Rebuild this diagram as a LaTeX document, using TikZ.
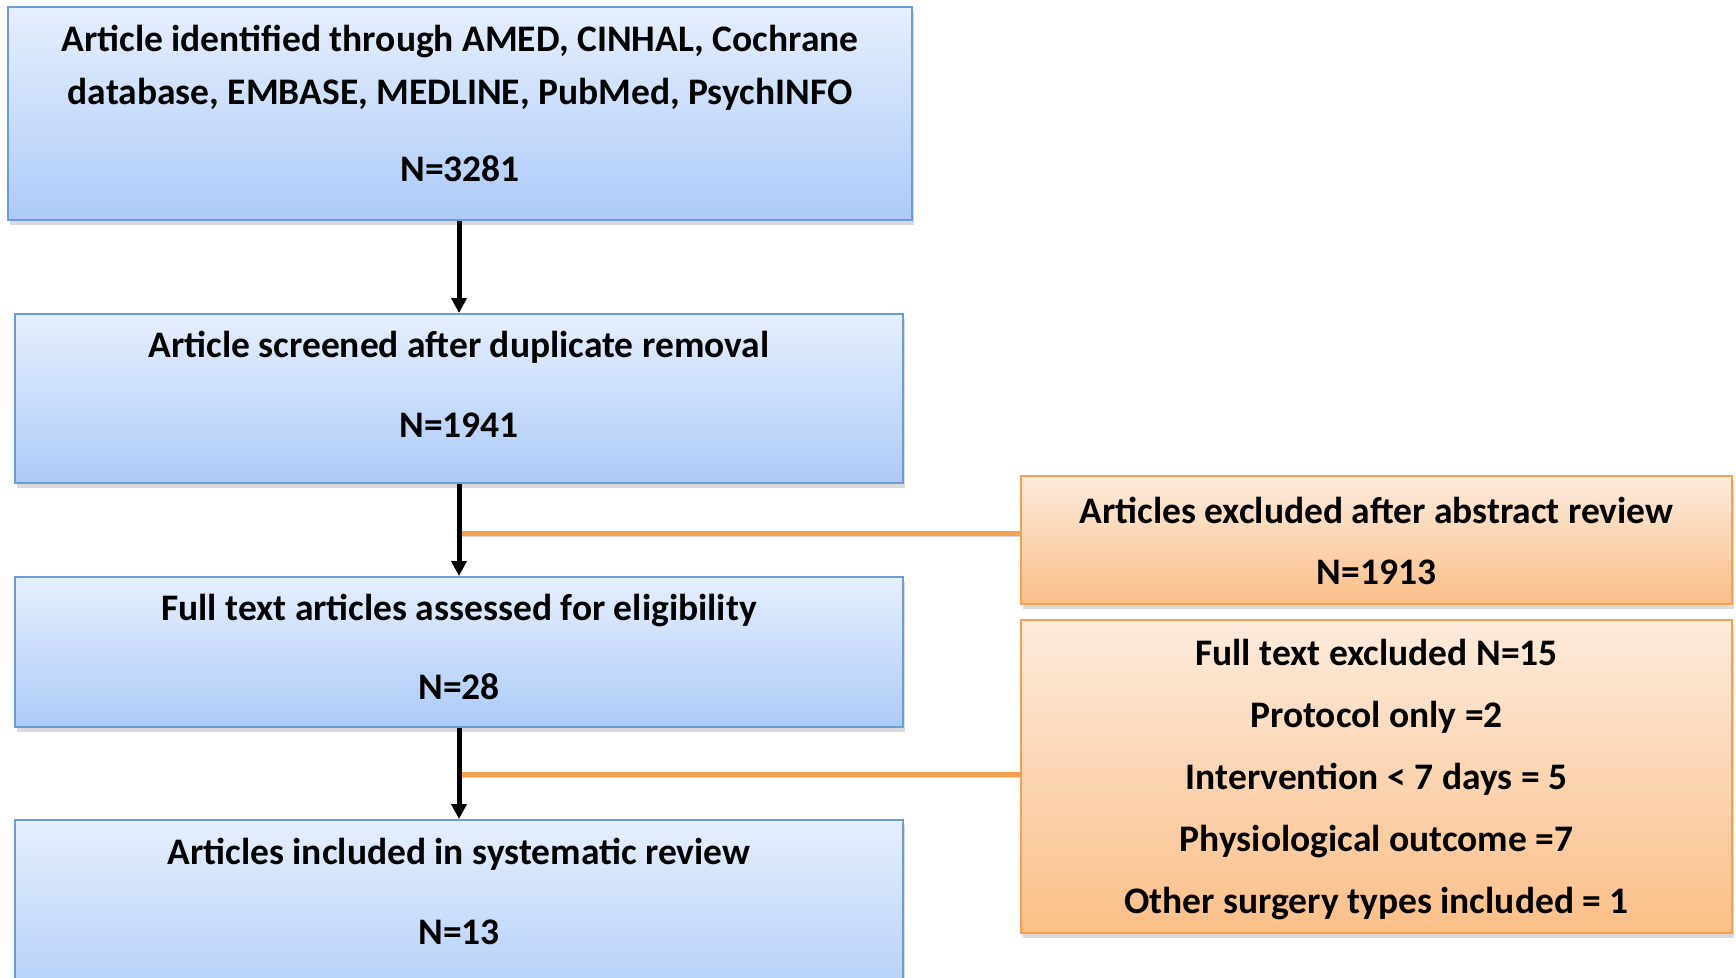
\documentclass[tikz,border=0pt]{standalone}
\usepackage{fontspec}
\setmainfont{Carlito}
\usetikzlibrary{calc,positioning,arrows.meta,shapes,shadows}

\definecolor{bluetop}{HTML}{E6EFFD}
\definecolor{bluebot}{HTML}{ADCBF8}
\definecolor{blueline}{HTML}{6D9BD4}
\definecolor{orangetop}{HTML}{FDEBDD}
\definecolor{orangebot}{HTML}{FBBF88}
\definecolor{orangeline}{HTML}{F5A04E}

\tikzset{
  stagebox/.style={draw=blueline, line width=2pt, rectangle, top color=bluetop, bottom color=bluebot,
    drop shadow={opacity=0.3, shadow xshift=2pt, shadow yshift=-5pt}},
  exclbox/.style={draw=orangeline, line width=2pt, rectangle, top color=orangetop, bottom color=orangebot,
    drop shadow={opacity=0.3, shadow xshift=2pt, shadow yshift=-5pt}},
  boxtext/.style={align=center, inner sep=0pt, font=\bfseries\fontsize{37.5}{53}\selectfont},
  flow/.style={line width=5pt, -{Triangle[length=15pt,width=15pt]}},
  branch/.style={line width=5pt, orangeline,
    preaction={draw=black, opacity=0.15, transform canvas={yshift=-3pt}}}
}

\begin{document}
\begin{tikzpicture}[x=1pt,y=-1pt]
  \useasboundingbox (0,0) rectangle (1736,977);
  \begin{scope}
    \clip (0,0) rectangle (1736,977);

  % main stream
  \node [stagebox, minimum width=904pt, minimum height=213pt] at (460,113.5) (ident) {};
  \node [stagebox, minimum width=888pt, minimum height=169pt] at (459,398.5) (screen) {};
  \node [stagebox, minimum width=888pt, minimum height=150pt] at (459,652) (fulltext) {};
  \node [stagebox, minimum width=888pt, minimum height=200pt] at (459,920) (included) {};

  \node [boxtext] at (460,103) (ident_text)
    {Article identified through AMED, CINHAL, Cochrane\\database, EMBASE, MEDLINE, PubMed, PsychINFO\\[24pt]N=3281};
  \node [boxtext] at (459,384) (screen_text) {Article screened after duplicate removal\\[27pt]N=1941};
  \node [boxtext] at (459,646.5) (fulltext_text) {Full text articles assessed for eligibility\\[26pt]N=28};
  \node [boxtext] at (459,891) (included_text) {Articles included in systematic review\\[27pt]N=13};

  % exclusions
  \node [exclbox, minimum width=711pt, minimum height=128pt] at (1376.5,540) (abstract) {};
  \node [exclbox, minimum width=711pt, minimum height=313pt] at (1376.5,776.5) (fullexcl) {};

  \node [boxtext] at (1376.5,540.5) (abstract_text) {Articles excluded after abstract review\\[8pt]N=1913};
  \node [boxtext, font=\bfseries\fontsize{37.5}{62}\selectfont] at (1376.5,779.5) (fullexcl_text)
    {Full text excluded N=15\\Protocol only =2\\Intervention < 7 days = 5\\Physiological outcome =7\\Other surgery types included = 1};

  \draw [branch] (abstract.west) ++(0,-7) coordinate (abs_in) -- (abs_in -| screen.south);
  \draw [branch] (fullexcl.west) ++(0,-2.5) coordinate (full_in) -- (full_in -| fulltext.south);

  \draw [flow] (ident.south -| screen.south) -- (screen.north);
  \draw [flow] (screen.south) -- (fulltext.north);
  \draw [flow] (fulltext.south) -- (included.north);
  \end{scope}

\end{tikzpicture}
\end{document}
